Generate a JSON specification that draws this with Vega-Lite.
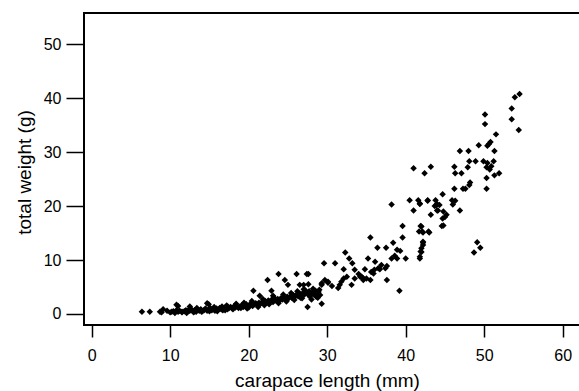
{
  "$schema": "https://vega.github.io/schema/vega-lite/v6.json",
  "autosize": {"type": "none"},
  "padding": {"left": 84, "top": 13, "right": 0, "bottom": 66},
  "width": 496,
  "height": 312,
  "background": "white",
  "config": {
    "view": {"stroke": "black", "strokeWidth": 2},
    "font": "Liberation Sans"
  },
  "data": {
    "values": [
      {"cl": 54.5, "tw": 40.8}, {"cl": 53.9, "tw": 40.2}, {"cl": 53.5, "tw": 38.1}, {"cl": 53.5, "tw": 36.1}, {"cl": 54.4, "tw": 34.1},
      {"cl": 50.1, "tw": 37.0}, {"cl": 50.1, "tw": 35.2}, {"cl": 51.5, "tw": 33.3}, {"cl": 50.8, "tw": 31.9}, {"cl": 50.6, "tw": 31.5},
      {"cl": 50.4, "tw": 31.2}, {"cl": 51.3, "tw": 30.2}, {"cl": 49.3, "tw": 31.3}, {"cl": 46.9, "tw": 30.2}, {"cl": 48.0, "tw": 30.2},
      {"cl": 48.1, "tw": 28.3}, {"cl": 48.9, "tw": 28.3}, {"cl": 49.9, "tw": 28.3}, {"cl": 50.4, "tw": 28.0}, {"cl": 51.2, "tw": 28.3},
      {"cl": 47.9, "tw": 27.2}, {"cl": 50.3, "tw": 27.2}, {"cl": 50.9, "tw": 27.4}, {"cl": 50.7, "tw": 26.8}, {"cl": 46.2, "tw": 27.3},
      {"cl": 43.2, "tw": 27.3}, {"cl": 42.4, "tw": 26.1}, {"cl": 47.1, "tw": 26.1}, {"cl": 51.9, "tw": 26.1}, {"cl": 51.3, "tw": 25.7},
      {"cl": 50.3, "tw": 25.2}, {"cl": 48.2, "tw": 24.4}, {"cl": 48.1, "tw": 23.9}, {"cl": 47.3, "tw": 23.2}, {"cl": 47.6, "tw": 23.2},
      {"cl": 50.3, "tw": 23.2}, {"cl": 46.2, "tw": 23.2}, {"cl": 44.7, "tw": 22.2}, {"cl": 42.8, "tw": 21.1}, {"cl": 41.8, "tw": 20.4},
      {"cl": 43.8, "tw": 21.1}, {"cl": 44.0, "tw": 20.4}, {"cl": 43.7, "tw": 20.0}, {"cl": 44.3, "tw": 20.2}, {"cl": 45.9, "tw": 21.1},
      {"cl": 46.3, "tw": 21.0}, {"cl": 46.0, "tw": 20.3}, {"cl": 46.9, "tw": 19.2}, {"cl": 44.0, "tw": 19.2}, {"cl": 43.2, "tw": 18.4},
      {"cl": 44.8, "tw": 19.0}, {"cl": 45.0, "tw": 18.0}, {"cl": 45.2, "tw": 18.4}, {"cl": 44.7, "tw": 17.7}, {"cl": 44.6, "tw": 16.3},
      {"cl": 44.8, "tw": 16.4}, {"cl": 42.0, "tw": 16.2}, {"cl": 42.2, "tw": 15.1}, {"cl": 43.0, "tw": 15.1}, {"cl": 42.2, "tw": 13.4},
      {"cl": 42.2, "tw": 12.8}, {"cl": 42.0, "tw": 12.2}, {"cl": 42.0, "tw": 11.5}, {"cl": 41.8, "tw": 10.6}, {"cl": 49.1, "tw": 13.3},
      {"cl": 49.5, "tw": 12.3}, {"cl": 48.7, "tw": 11.4}, {"cl": 41.0, "tw": 27.0}, {"cl": 46.3, "tw": 26.1}, {"cl": 38.2, "tw": 20.3},
      {"cl": 40.5, "tw": 21.1}, {"cl": 41.6, "tw": 21.1}, {"cl": 42.8, "tw": 21.0}, {"cl": 41.0, "tw": 19.2}, {"cl": 41.8, "tw": 20.5},
      {"cl": 43.9, "tw": 20.2}, {"cl": 44.1, "tw": 19.2}, {"cl": 39.6, "tw": 16.3}, {"cl": 41.9, "tw": 16.3}, {"cl": 42.1, "tw": 15.3},
      {"cl": 42.9, "tw": 15.3}, {"cl": 41.7, "tw": 15.3}, {"cl": 35.5, "tw": 14.2}, {"cl": 39.6, "tw": 14.2}, {"cl": 38.4, "tw": 13.2},
      {"cl": 42.2, "tw": 13.2}, {"cl": 41.9, "tw": 11.6}, {"cl": 41.8, "tw": 10.3}, {"cl": 36.4, "tw": 12.3}, {"cl": 37.5, "tw": 12.3},
      {"cl": 38.9, "tw": 11.9}, {"cl": 39.3, "tw": 11.7}, {"cl": 38.6, "tw": 10.8}, {"cl": 38.2, "tw": 10.3}, {"cl": 38.9, "tw": 10.3},
      {"cl": 40.0, "tw": 10.3}, {"cl": 32.3, "tw": 11.4}, {"cl": 32.8, "tw": 10.3}, {"cl": 33.2, "tw": 9.4}, {"cl": 35.2, "tw": 10.3},
      {"cl": 29.6, "tw": 9.4}, {"cl": 31.0, "tw": 9.4}, {"cl": 32.1, "tw": 8.3}, {"cl": 36.1, "tw": 9.7}, {"cl": 36.9, "tw": 9.1},
      {"cl": 36.5, "tw": 8.5}, {"cl": 37.6, "tw": 8.9}, {"cl": 36.0, "tw": 8.2}, {"cl": 36.7, "tw": 8.3}, {"cl": 37.4, "tw": 8.5},
      {"cl": 35.9, "tw": 7.5}, {"cl": 35.6, "tw": 7.8}, {"cl": 33.5, "tw": 8.2}, {"cl": 34.0, "tw": 7.4}, {"cl": 34.4, "tw": 6.9},
      {"cl": 34.8, "tw": 8.3}, {"cl": 34.6, "tw": 6.6}, {"cl": 35.5, "tw": 6.3}, {"cl": 37.6, "tw": 6.3}, {"cl": 39.2, "tw": 4.3},
      {"cl": 27.4, "tw": 7.4}, {"cl": 26.5, "tw": 5.4}, {"cl": 27.0, "tw": 5.4}, {"cl": 29.3, "tw": 5.4}, {"cl": 29.7, "tw": 6.3},
      {"cl": 30.1, "tw": 5.8}, {"cl": 30.6, "tw": 5.2}, {"cl": 31.4, "tw": 4.8}, {"cl": 31.6, "tw": 5.4}, {"cl": 32.1, "tw": 6.6},
      {"cl": 31.8, "tw": 6.0}, {"cl": 32.5, "tw": 6.9}, {"cl": 33.1, "tw": 5.4}, {"cl": 33.5, "tw": 6.6}, {"cl": 34.2, "tw": 6.9},
      {"cl": 34.6, "tw": 6.3}, {"cl": 35.0, "tw": 6.6}, {"cl": 29.3, "tw": 1.9}, {"cl": 27.5, "tw": 1.3}, {"cl": 6.4, "tw": 0.4},
      {"cl": 7.4, "tw": 0.4}, {"cl": 8.7, "tw": 0.4}, {"cl": 9.1, "tw": 0.9}, {"cl": 9.6, "tw": 0.6}, {"cl": 8.9, "tw": 0.3},
      {"cl": 10.8, "tw": 1.7}, {"cl": 10.8, "tw": 0.7}, {"cl": 10.2, "tw": 0.4}, {"cl": 11.5, "tw": 0.4}, {"cl": 12.3, "tw": 0.7},
      {"cl": 12.5, "tw": 1.4}, {"cl": 14.7, "tw": 2.0}, {"cl": 20.6, "tw": 4.3}, {"cl": 21.4, "tw": 3.4}, {"cl": 22.4, "tw": 6.3},
      {"cl": 23.8, "tw": 7.4}, {"cl": 24.6, "tw": 6.3}, {"cl": 25.0, "tw": 5.4}, {"cl": 26.1, "tw": 7.4}, {"cl": 27.6, "tw": 7.4},
      {"cl": 22.9, "tw": 4.3}, {"cl": 23.1, "tw": 3.4}, {"cl": 27.6, "tw": 5.5}, {"cl": 29.3, "tw": 5.7}, {"cl": 30.1, "tw": 6.0},
      {"cl": 11.0, "tw": 1.5}, {"cl": 26.6, "tw": 3.0}, {"cl": 27.2, "tw": 4.4}, {"cl": 28.0, "tw": 2.7}, {"cl": 28.6, "tw": 3.2},
      {"cl": 10.0, "tw": 0.3}, {"cl": 10.4, "tw": 0.5}, {"cl": 10.6, "tw": 0.2}, {"cl": 11.0, "tw": 0.4}, {"cl": 11.2, "tw": 0.6},
      {"cl": 11.5, "tw": 0.3}, {"cl": 11.8, "tw": 0.5}, {"cl": 12.0, "tw": 0.7}, {"cl": 12.2, "tw": 0.4}, {"cl": 12.5, "tw": 0.6},
      {"cl": 12.7, "tw": 0.9}, {"cl": 12.9, "tw": 0.5}, {"cl": 13.1, "tw": 0.7}, {"cl": 13.3, "tw": 0.4}, {"cl": 13.5, "tw": 0.8},
      {"cl": 13.7, "tw": 0.6}, {"cl": 13.9, "tw": 0.9}, {"cl": 14.1, "tw": 0.5}, {"cl": 14.3, "tw": 0.7}, {"cl": 14.5, "tw": 1.0},
      {"cl": 14.7, "tw": 0.6}, {"cl": 14.9, "tw": 0.8}, {"cl": 15.1, "tw": 1.1}, {"cl": 15.3, "tw": 0.7}, {"cl": 15.5, "tw": 0.9},
      {"cl": 15.7, "tw": 0.6}, {"cl": 15.9, "tw": 1.0}, {"cl": 16.1, "tw": 0.8}, {"cl": 16.3, "tw": 1.1}, {"cl": 16.5, "tw": 0.9},
      {"cl": 16.7, "tw": 0.7}, {"cl": 16.9, "tw": 1.0}, {"cl": 17.1, "tw": 1.2}, {"cl": 17.3, "tw": 0.9}, {"cl": 17.5, "tw": 1.1},
      {"cl": 17.7, "tw": 1.3}, {"cl": 17.9, "tw": 1.0}, {"cl": 18.1, "tw": 1.4}, {"cl": 18.3, "tw": 1.2}, {"cl": 18.5, "tw": 1.5},
      {"cl": 18.7, "tw": 1.1}, {"cl": 18.9, "tw": 1.4}, {"cl": 19.1, "tw": 1.6}, {"cl": 19.3, "tw": 1.3}, {"cl": 19.5, "tw": 1.5},
      {"cl": 19.7, "tw": 1.8}, {"cl": 19.9, "tw": 1.4}, {"cl": 20.1, "tw": 1.7}, {"cl": 20.3, "tw": 1.9}, {"cl": 20.5, "tw": 1.5},
      {"cl": 20.7, "tw": 1.8}, {"cl": 20.9, "tw": 2.0}, {"cl": 21.1, "tw": 1.7}, {"cl": 21.3, "tw": 2.1}, {"cl": 21.5, "tw": 1.9},
      {"cl": 21.7, "tw": 2.2}, {"cl": 21.9, "tw": 2.0}, {"cl": 22.1, "tw": 2.4}, {"cl": 22.3, "tw": 2.1}, {"cl": 22.5, "tw": 2.5},
      {"cl": 22.7, "tw": 2.3}, {"cl": 22.9, "tw": 2.6}, {"cl": 23.1, "tw": 2.2}, {"cl": 23.3, "tw": 2.7}, {"cl": 23.5, "tw": 2.5},
      {"cl": 23.7, "tw": 2.8}, {"cl": 23.9, "tw": 2.4}, {"cl": 24.1, "tw": 2.9}, {"cl": 24.3, "tw": 2.7}, {"cl": 24.5, "tw": 3.1},
      {"cl": 24.7, "tw": 2.8}, {"cl": 24.9, "tw": 3.2}, {"cl": 25.1, "tw": 2.9}, {"cl": 25.3, "tw": 3.3}, {"cl": 25.5, "tw": 3.0},
      {"cl": 25.7, "tw": 3.5}, {"cl": 25.9, "tw": 3.2}, {"cl": 26.1, "tw": 3.6}, {"cl": 26.3, "tw": 3.3}, {"cl": 26.5, "tw": 3.8},
      {"cl": 26.7, "tw": 3.4}, {"cl": 26.9, "tw": 3.9}, {"cl": 27.1, "tw": 3.6}, {"cl": 27.3, "tw": 4.1}, {"cl": 27.5, "tw": 3.7},
      {"cl": 27.7, "tw": 4.2}, {"cl": 27.9, "tw": 3.8}, {"cl": 28.1, "tw": 4.0}, {"cl": 28.3, "tw": 3.6}, {"cl": 28.5, "tw": 4.3},
      {"cl": 28.7, "tw": 3.9}, {"cl": 28.9, "tw": 4.1}, {"cl": 29.1, "tw": 3.5}, {"cl": 12.1, "tw": 0.2}, {"cl": 13.0, "tw": 0.3},
      {"cl": 14.0, "tw": 0.4}, {"cl": 15.0, "tw": 0.5}, {"cl": 16.0, "tw": 0.5}, {"cl": 17.0, "tw": 0.7}, {"cl": 18.0, "tw": 0.9},
      {"cl": 19.0, "tw": 1.1}, {"cl": 20.0, "tw": 1.2}, {"cl": 14.9, "tw": 1.8},
      {"cl": 17.2, "tw": 1.6}, {"cl": 18.4, "tw": 1.9}, {"cl": 19.4, "tw": 2.1}, {"cl": 20.4, "tw": 2.4}, {"cl": 21.2, "tw": 1.3},
      {"cl": 21.8, "tw": 2.8}, {"cl": 22.6, "tw": 1.8}, {"cl": 23.2, "tw": 3.1}, {"cl": 23.8, "tw": 2.0}, {"cl": 24.4, "tw": 3.6},
      {"cl": 24.8, "tw": 2.3}, {"cl": 25.4, "tw": 3.9}, {"cl": 25.8, "tw": 2.6}, {"cl": 26.2, "tw": 4.2}, {"cl": 26.8, "tw": 2.9},
      {"cl": 27.0, "tw": 4.6}, {"cl": 27.8, "tw": 3.2}, {"cl": 28.2, "tw": 4.7}, {"cl": 28.8, "tw": 3.0}, {"cl": 29.0, "tw": 4.5},
      {"cl": 16.6, "tw": 1.4}, {"cl": 15.6, "tw": 1.3}, {"cl": 13.4, "tw": 1.1}, {"cl": 19.8, "tw": 1.0}, {"cl": 22.0, "tw": 1.6}
    ]
  },
  "mark": {"type": "point", "shape": "diamond", "filled": true, "size": 42, "color": "black", "opacity": 1},
  "encoding": {
    "x": {
      "field": "cl", "type": "quantitative",
      "scale": {"domain": [-0.98, 62.2], "nice": false, "zero": false},
      "axis": {
        "title": "carapace length (mm)",
        "values": [0, 10, 20, 30, 40, 50, 60],
        "grid": false, "domain": false,
        "tickSize": 12, "tickWidth": 1.5, "tickColor": "black",
        "labelFontSize": 16, "labelColor": "black", "labelPadding": 10, "labelFont": "Liberation Sans",
        "titleFontSize": 19, "titleFontWeight": "normal", "titleColor": "black", "titleFont": "Liberation Sans",
        "titleBaseline": "alphabetic", "titleAlign": "center", "titleX": 243, "titleY": 61.5
      }
    },
    "y": {
      "field": "tw", "type": "quantitative",
      "scale": {"domain": [-2.04, 55.8], "nice": false, "zero": false},
      "axis": {
        "title": "total weight (g)",
        "values": [0, 10, 20, 30, 40, 50],
        "grid": false, "domain": false,
        "tickSize": 18, "tickWidth": 1.5, "tickColor": "black",
        "labelFontSize": 16, "labelColor": "black", "labelPadding": 5, "labelFont": "Liberation Sans",
        "titleFontSize": 19, "titleFontWeight": "normal", "titleColor": "black", "titleFont": "Liberation Sans",
        "titleBaseline": "alphabetic", "titleAngle": -90, "titleAlign": "center", "titleX": -54, "titleY": 159
      }
    }
  }
}
